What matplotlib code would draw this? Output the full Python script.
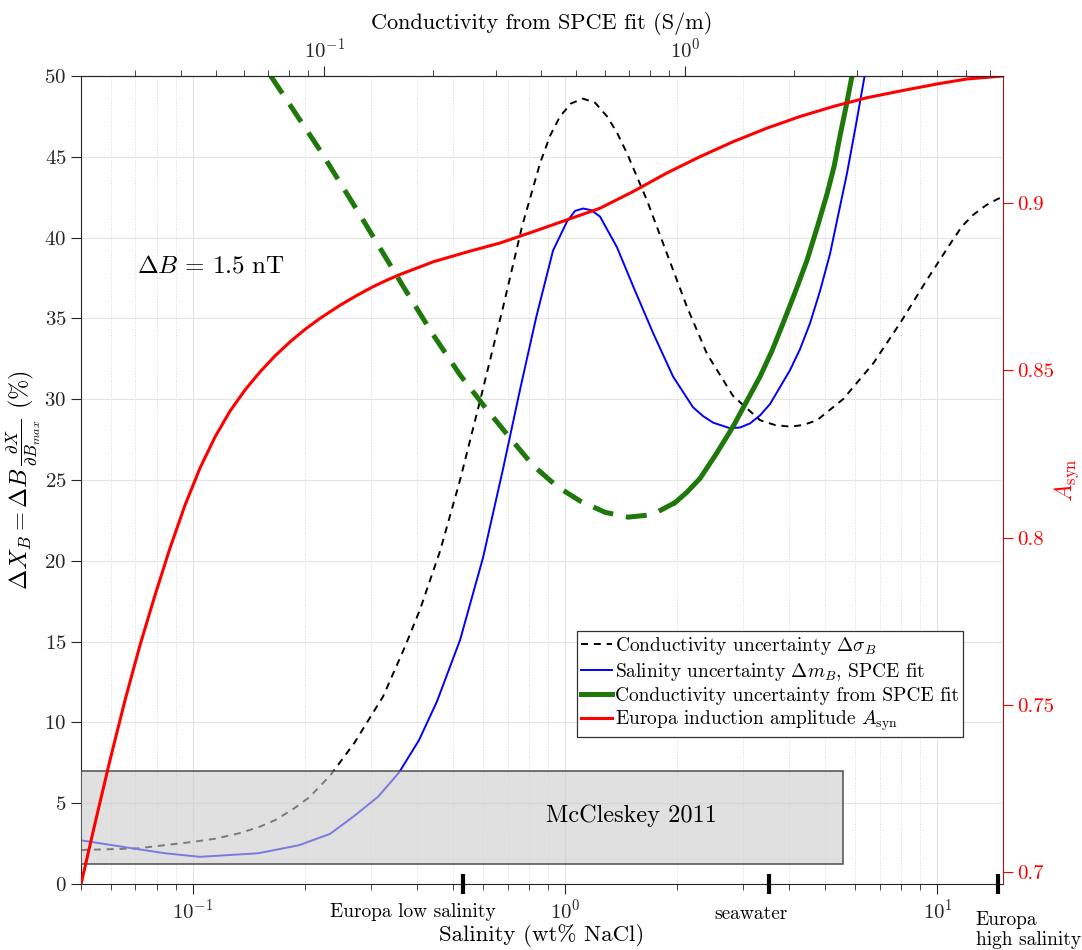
import numpy as np
import matplotlib
matplotlib.use('Agg')
import matplotlib.pyplot as plt
from matplotlib.patches import Rectangle
from matplotlib.lines import Line2D
from matplotlib.ticker import LogLocator, NullFormatter, MultipleLocator

plt.rcParams['font.family'] = 'serif'
plt.rcParams['font.serif'] = ['cmr10']
plt.rcParams['mathtext.fontset'] = 'cm'
plt.rcParams['axes.formatter.use_mathtext'] = True
plt.rcParams['axes.unicode_minus'] = False

# Conductivity uncertainty (black dashed), salinity wt% vs percent
sal_dsig = [0.0500, 0.0707, 0.0994, 0.1146, 0.1337, 0.1513, 0.1661, 0.1848, 0.2049,
            0.2333, 0.2707, 0.3239, 0.3712, 0.4073, 0.4608, 0.5216, 0.5902, 0.6806,
            0.7655, 0.8554, 0.9101, 0.9681, 1.036, 1.116, 1.202, 1.295, 1.377, 1.466,
            1.658, 1.876, 2.124, 2.404, 2.823, 3.337, 3.661, 4.017, 4.353, 4.747,
            5.576, 6.713, 7.932, 9.376, 10.81, 11.64, 12.46, 13.50, 14.54, 15.0]
dsig = [2.1, 2.2, 2.6, 2.8, 3.15, 3.55, 3.95, 4.6, 5.35,
        6.7, 8.7, 11.6, 14.7, 17.0, 20.6, 25.0, 29.9, 35.7,
        40.7, 44.6, 46.3, 47.5, 48.3, 48.6, 48.35, 47.5, 46.5, 45.2,
        42.3, 39.0, 35.7, 32.8, 30.2, 28.7, 28.4, 28.3, 28.4, 28.7,
        30.0, 32.2, 34.7, 37.4, 39.6, 40.7, 41.4, 42.0, 42.4, 42.5]

# Salinity uncertainty, SPCE fit (blue)
sal_dm = [0.0500, 0.0690, 0.0841, 0.1044, 0.1495, 0.1927, 0.2333, 0.2707, 0.3141,
          0.3576, 0.4046, 0.4522, 0.5216, 0.6013, 0.6806, 0.7560, 0.8360, 0.9271,
          1.011, 1.062, 1.116, 1.173, 1.240, 1.377, 1.521, 1.721, 1.948, 2.204,
          2.346, 2.495, 2.772, 2.949, 3.136, 3.337, 3.549, 4.017, 4.273, 4.546,
          4.836, 5.145, 5.716, 6.042, 6.428]
dm = [2.7, 2.2, 1.9, 1.68, 1.9, 2.4, 3.1, 4.2, 5.4,
      6.9, 8.9, 11.3, 15.1, 20.2, 25.7, 30.6, 35.1, 39.2,
      41.0, 41.65, 41.8, 41.7, 41.3, 39.4, 37.0, 34.1, 31.4, 29.5,
      28.95, 28.55, 28.2, 28.25, 28.5, 29.0, 29.7, 31.8, 33.1, 34.7,
      36.7, 39.0, 44.0, 47.0, 50.5]

# Conductivity uncertainty from SPCE fit (green): dashed part, solid part
sal_g1 = [0.1617, 0.2194, 0.2809, 0.3664, 0.4412, 0.5216, 0.6087, 0.7105,
          0.8190, 0.9504, 1.096, 1.279, 1.474, 1.711, 1.972]
g1 = [50.0, 45.4, 41.4, 37.0, 34.0, 31.5, 29.5, 27.6,
      25.9, 24.6, 23.7, 23.0, 22.7, 22.85, 23.6]
sal_g2 = [1.972, 2.124, 2.302, 2.542, 2.823, 3.060, 3.337, 3.593, 3.847, 4.143,
          4.462, 4.747, 5.050, 5.275, 5.472, 5.680, 5.894, 6.117]
g2 = [23.6, 24.25, 25.1, 26.6, 28.3, 29.8, 31.4, 33.0, 34.7, 36.6,
      38.6, 40.6, 42.7, 44.4, 46.3, 48.1, 50.0, 52.0]

# Europa induction amplitude (red, right axis)
sal_A = [0.0500, 0.05454, 0.05981, 0.06567, 0.07203, 0.07903, 0.08671, 0.09515,
         0.1044, 0.1146, 0.1257, 0.1379, 0.1513, 0.1661, 0.1823, 0.1999, 0.2194,
         0.2482, 0.2740, 0.3026, 0.3300, 0.3598, 0.4420, 0.5436, 0.6679, 0.8207,
         1.009, 1.240, 1.523, 1.873, 2.302, 2.829, 3.478, 4.273, 5.252, 6.457,
         7.932, 9.954, 11.98, 15.0]
A_syn = [0.6965, 0.7147, 0.7335, 0.7515, 0.7679, 0.7828, 0.7969, 0.8097,
         0.8208, 0.8301, 0.8378, 0.8441, 0.8495, 0.8543, 0.8585, 0.8622, 0.8655,
         0.8694, 0.8722, 0.8748, 0.8768, 0.8786, 0.8824, 0.8853, 0.8880, 0.8914,
         0.8949, 0.8984, 0.9034, 0.9089, 0.9138, 0.9183, 0.9223, 0.9258, 0.9288,
         0.9314, 0.9334, 0.9355, 0.9370, 0.9379]

# McCleskey 2011 range
box_sal = [0.05, 5.57]
box_pct = [1.22, 7.0]

# reference salinities
mark_sal = [0.531, 3.53, 14.55]
mark_lbl = ['Europa low salinity', 'seawater', 'Europa\nhigh salinity']

sal_lim = [0.05, 15.0]
cond_lim = [0.0212, 7.6]

dark = '#262626'
green = '#1e780a'

fig = plt.figure(figsize=(10.82, 9.5), dpi=100)
ax = fig.add_axes([0.0749, 0.0695, 0.8521, 0.8505])
ax.set_xscale('log')
ax.set_xlim(sal_lim)
ax.set_ylim(0, 50)
ax.yaxis.set_major_locator(MultipleLocator(5))
ax.grid(which='major', color='#e4e4e4', lw=0.8)
ax.grid(which='minor', axis='x', color='#d9d9d9', lw=0.7, ls=':')
ax.set_axisbelow(True)

ax.plot(sal_dsig, dsig, color='k', lw=1.4, dashes=(3.6, 3.0), zorder=2)
ax.plot(sal_dm, dm, color='b', lw=1.4, zorder=2)
ax.plot(sal_g1, g1, color=green, lw=3.6, dashes=(4.2, 2.6), zorder=2)
ax.plot(sal_g2, g2, color=green, lw=3.6, zorder=2)

ax.add_patch(Rectangle((box_sal[0], box_pct[0]), box_sal[1] - box_sal[0],
                       box_pct[1] - box_pct[0], facecolor=(0.8, 0.8, 0.8, 0.6),
                       edgecolor='#4d4d4d', lw=1.1, zorder=3))
ax.text(1.51, 4.2, 'McCleskey 2011', ha='center', va='center', fontsize=17.5, zorder=4)
ax.text(0.0707, 38.2, r'$\Delta B\,=\,1.5\ \mathrm{nT}$', ha='left', va='center',
        fontsize=18)

ax.tick_params(which='both', direction='out', colors=dark, top=False, right=False,
               labelsize=15)
ax.tick_params(which='major', length=7)
ax.tick_params(which='minor', length=4)
for s in ['left', 'bottom', 'top']:
    ax.spines[s].set_color(dark)
ax.spines['right'].set_visible(False)

# reference salinity marks on the bottom axis
ax.plot(mark_sal, [0, 0, 0], ls='none', marker='|', ms=15, mew=3, color='k',
        clip_on=False, zorder=6)
offsets = [(-36, -20, 'center'), (-13, -22, 'center'), (-16, -33, 'left')]
for xs, lbl, (dx, dy, ha) in zip(mark_sal, mark_lbl, offsets):
    ax.annotate(lbl, xy=(xs, 0), xycoords='data', xytext=(dx, dy),
                textcoords='offset points', ha=ha, va='center', fontsize=14,
                linespacing=1.1, annotation_clip=False)

ax.set_xlabel('Salinity (wt% NaCl)', fontsize=16.5)
ax.xaxis.set_label_coords(0.5, -0.050)
ax.set_ylabel(r'$\Delta X_B = \Delta B\,\frac{\partial X}{\partial B_{max}}$ (%)',
              fontsize=17.5)
ax.yaxis.set_label_coords(-0.041, 0.5)

# right axis: induction amplitude
ax_r = ax.twinx()
ax_r.plot(sal_A, A_syn, color='r', lw=2.2, zorder=5)
ax_r.set_ylim(min(A_syn), max(A_syn))
ax_r.set_yticks([0.7, 0.75, 0.8, 0.85, 0.9])
ax_r.set_yticklabels(['0.7', '0.75', '0.8', '0.85', '0.9'])
ax_r.tick_params(axis='y', direction='out', length=7, colors='r', labelsize=15)
ax_r.spines['right'].set_color('#9a1a1a')
for s in ['left', 'top', 'bottom']:
    ax_r.spines[s].set_visible(False)
ax_r.set_ylabel(r'$A_{\mathrm{syn}}$', color='r', fontsize=17)
ax_r.yaxis.set_label_coords(1.054, 0.5)

# top axis: conductivity
ax_t = ax.twiny()
ax_t.set_xscale('log')
ax_t.set_xlim(cond_lim)
ax_t.xaxis.set_major_locator(LogLocator(base=10))
ax_t.xaxis.set_minor_locator(LogLocator(base=10, subs=np.arange(2, 10)))
ax_t.xaxis.set_minor_formatter(NullFormatter())
ax_t.tick_params(which='both', direction='out', colors=dark, labelsize=15)
ax_t.tick_params(which='major', length=7)
ax_t.tick_params(which='minor', length=4)
for s in ['left', 'right', 'bottom']:
    ax_t.spines[s].set_visible(False)
ax_t.spines['top'].set_color(dark)
ax_t.set_xlabel('Conductivity from SPCE fit (S/m)', fontsize=16)
ax_t.xaxis.set_label_coords(0.5, 1.058)

handles = [Line2D([], [], color='k', lw=1.4, dashes=(3.6, 3.0)),
           Line2D([], [], color='b', lw=1.4),
           Line2D([], [], color=green, lw=3.6),
           Line2D([], [], color='r', lw=2.2)]
labels = [r'Conductivity uncertainty $\Delta\sigma_B$',
          r'Salinity uncertainty $\Delta m_B$, SPCE fit',
          'Conductivity uncertainty from SPCE fit',
          r'Europa induction amplitude $A_{\mathrm{syn}}$']
leg = ax_t.legend(handles, labels, loc='upper left', bbox_to_anchor=(0.538, 0.313),
                  fontsize=14, frameon=True, fancybox=False, framealpha=1,
                  edgecolor='#333333', borderaxespad=0, borderpad=0.2,
                  labelspacing=0.2, handlelength=1.6, handletextpad=0.15)
leg.get_frame().set_linewidth(0.9)

fig.savefig('out.png', dpi=100)
